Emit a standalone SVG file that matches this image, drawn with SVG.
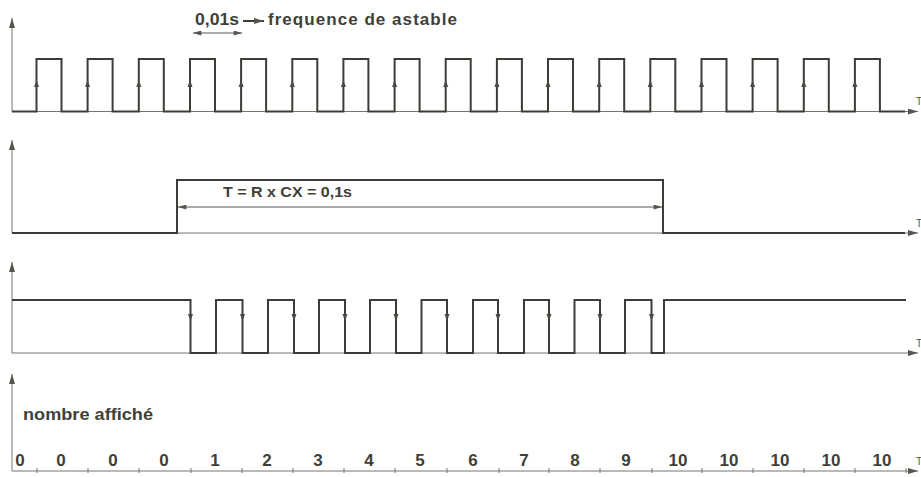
<svg xmlns="http://www.w3.org/2000/svg" width="921" height="477" viewBox="0 0 921 477">
<style>
.bg{fill:#ffffff}
.sig{fill:none;stroke:#3d3d38;stroke-width:2;stroke-linejoin:miter}
.axis{fill:none;stroke:#75756f;stroke-width:1}
.dim{fill:none;stroke:#55554f;stroke-width:1}
.lbl{font-family:"Liberation Sans",Arial,sans-serif;fill:#3f3f3a;font-weight:bold}
.t{font-family:"Liberation Sans",Arial,sans-serif;fill:#55554f;font-size:10px}
.ah{fill:#4a4a45}
</style>
<defs>
<marker id="axh" viewBox="0 0 10 6" refX="10" refY="3" markerWidth="10" markerHeight="6" markerUnits="userSpaceOnUse" orient="auto">
<path d="M0,0 L10,3 L0,6 Z" fill="#55554f"/>
</marker>
<marker id="dh" viewBox="0 0 10 6" refX="10" refY="3" markerWidth="9" markerHeight="5" markerUnits="userSpaceOnUse" orient="auto-start-reverse">
<path d="M0,0 L10,3 L0,6 Z" fill="#55554f"/>
</marker>
<path id="up" d="M0,0 L-2.5,7 L2.5,7 Z"/>
<path id="dn" d="M0,0 L-2.5,-7 L2.5,-7 Z"/>
</defs>
<rect class="bg" x="0" y="0" width="921" height="477"/>

<g id="connectors">
<line class="axis" x1="12" y1="111.5" x2="12" y2="18" marker-end="url(#axh)"/>
<line class="axis" x1="12" y1="111.5" x2="918" y2="111.5" marker-end="url(#axh)"/>
<line class="axis" x1="12" y1="233" x2="12" y2="140" marker-end="url(#axh)"/>
<line class="axis" x1="12" y1="233" x2="918" y2="233" marker-end="url(#axh)"/>
<line class="axis" x1="12" y1="353" x2="12" y2="262" marker-end="url(#axh)"/>
<line class="axis" x1="12" y1="353" x2="918" y2="353" marker-end="url(#axh)"/>
<line class="axis" x1="12" y1="471" x2="12" y2="374" marker-end="url(#axh)"/>
<line class="axis" x1="12" y1="471" x2="918" y2="471" marker-end="url(#axh)"/>
<path class="axis" d="M37,468V473 M88,468V473 M139,468V473 M191,468V473 M242,468V473 M293,468V473 M344,468V473 M395,468V473 M447,468V473 M499,468V473 M549,468V473 M600,468V473 M652,468V473 M702,468V473 M753,468V473 M804,468V473 M855,468V473 M906,468V473"/>
<line class="dim" x1="193" y1="33" x2="242" y2="33" marker-start="url(#dh)" marker-end="url(#dh)"/>
<line x1="243" y1="21" x2="264" y2="21" stroke="#3d3d38" stroke-width="2" marker-end="url(#axh)"/>
<line class="dim" x1="178" y1="207" x2="662" y2="207" marker-start="url(#dh)" marker-end="url(#dh)"/>
</g>

<g id="signal-astable">
<path class="sig" d="M12,111.5 H36.5 V59 H61.5 V111.5 H87.6 V59 H112.6 V111.5 H138.8 V59 H163.8 V111.5 H190 V59 H215 V111.5 H241.1 V59 H266.1 V111.5 H292.3 V59 H317.3 V111.5 H343.4 V59 H368.4 V111.5 H394.6 V59 H419.6 V111.5 H445.7 V59 H470.7 V111.5 H496.9 V59 H521.9 V111.5 H548 V59 H573 V111.5 H599.2 V59 H624.2 V111.5 H650.3 V59 H675.3 V111.5 H701.5 V59 H726.5 V111.5 H752.6 V59 H777.6 V111.5 H803.8 V59 H828.8 V111.5 H854.9 V59 H879.9 V111.5 H905"/>
<g class="ah">
<use href="#up" x="36.5" y="80"/><use href="#up" x="87.6" y="80"/><use href="#up" x="138.8" y="80"/><use href="#up" x="190" y="80"/>
<use href="#up" x="241.1" y="80"/><use href="#up" x="292.3" y="80"/><use href="#up" x="343.4" y="80"/><use href="#up" x="394.6" y="80"/>
<use href="#up" x="445.7" y="80"/><use href="#up" x="496.9" y="80"/><use href="#up" x="548" y="80"/><use href="#up" x="599.2" y="80"/>
<use href="#up" x="650.3" y="80"/><use href="#up" x="701.5" y="80"/><use href="#up" x="752.6" y="80"/><use href="#up" x="803.8" y="80"/>
<use href="#up" x="854.9" y="80"/>
</g>
<text class="lbl" x="195" y="25" font-size="17" textLength="44" lengthAdjust="spacingAndGlyphs">0,01s</text>
<text class="lbl" x="268" y="25" font-size="17" textLength="189" lengthAdjust="spacing">frequence  de  astable</text>
<text class="t" x="916" y="105">T</text>
</g>

<g id="signal-monostable">
<path class="sig" d="M12,233 H177 V180 H663 V233 H905"/>
<text class="lbl" x="223" y="197" font-size="15" textLength="129" lengthAdjust="spacingAndGlyphs">T = R x CX = 0,1s</text>
<text class="t" x="916" y="227">T</text>
</g>

<g id="signal-gated">
<path class="sig" d="M12,300 H190.5 V353 H216 V300 H242.5 V353 H268 V300 H294 V353 H319 V300 H345 V353 H370 V300 H396 V353 H421.5 V300 H447 V353 H473 V300 H498 V353 H524 V300 H549 V353 H574.5 V300 H600 V353 H625 V300 H651.5 V353 H664 V300 H906"/>
<g class="ah">
<use href="#dn" x="190.5" y="321"/><use href="#dn" x="242.5" y="321"/><use href="#dn" x="294" y="321"/><use href="#dn" x="345" y="321"/>
<use href="#dn" x="396" y="321"/><use href="#dn" x="447" y="321"/><use href="#dn" x="498" y="321"/><use href="#dn" x="549" y="321"/>
<use href="#dn" x="600" y="321"/><use href="#dn" x="651.5" y="321"/>
</g>
<text class="t" x="916" y="347">T</text>
</g>

<g id="display-count">
<text class="lbl" x="23" y="420" font-size="17" textLength="130" lengthAdjust="spacingAndGlyphs">nombre affiché</text>
<g class="lbl" font-size="17" text-anchor="middle">
<text x="20" y="466">0</text>
<text x="61" y="466">0</text>
<text x="113" y="466">0</text>
<text x="164" y="466">0</text>
<text x="215" y="466">1</text>
<text x="267" y="466">2</text>
<text x="318" y="466">3</text>
<text x="369" y="466">4</text>
<text x="420" y="466">5</text>
<text x="473" y="466">6</text>
<text x="524" y="466">7</text>
<text x="575" y="466">8</text>
<text x="626" y="466">9</text>
<text x="678" y="466">10</text>
<text x="729" y="466">10</text>
<text x="780" y="466">10</text>
<text x="831" y="466">10</text>
<text x="882" y="466">10</text>
</g>
<text class="t" x="916" y="465">T</text>
</g>
</svg>
